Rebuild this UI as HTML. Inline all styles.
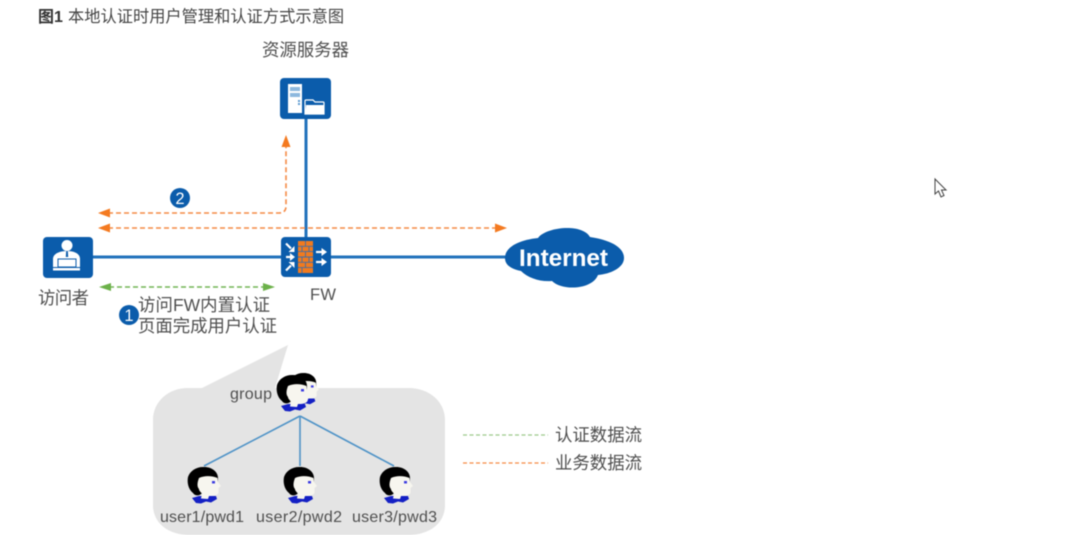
<!DOCTYPE html>
<html><head><meta charset="utf-8"><style>
html,body{margin:0;padding:0;background:#fff;width:1067px;height:535px;overflow:hidden}
svg{display:block;filter:blur(.55px)}
text{font-family:"Liberation Sans","Noto Sans CJK SC",sans-serif;fill:#4f4f4f}
</style></head><body>
<svg width="1067" height="535" viewBox="0 0 1067 535" xmlns="http://www.w3.org/2000/svg">
<defs>
<g id="head">
<path d="M-11 14 L-4 12 L5 12 L13 12 L14 15 L8 18.500 L3 17.500 L-2 19.500 L-7 19Z" fill="#1420c4"/>
<path d="M0 -17C9 -17.500 15 -12 15 -6L15 0L-2 10C-4 12 -8 12 -10 9C-15 5 -16 -2 -15 -7C-13 -13 -7 -17 0 -17Z" fill="#000"/>
<path d="M-4 -6C2 -9 10 -8 14.500 -6L15 -2L18 2L15.500 4L15.500 9C14 12 9 12 6 12L5 15L-2 14.500L-1 10C-2 8 -4 7 -4 5C-6 3 -6 -1 -4 -6Z" fill="#f7f6ef"/>
<rect x="9" y="-3" width="3" height="2.500" fill="#3f3fe0"/>
</g>
</defs>
<rect width="1067" height="535" fill="#fff"/>

<text x="38" y="22" font-size="16" font-weight="bold" style="fill:#333">图1</text>
<text x="68" y="22" font-size="16.200" textLength="276" style="fill:#444">本地认证时用户管理和认证方式示意图</text>
<text x="262" y="56" font-size="17.400" textLength="87">资源服务器</text>

<!-- lines -->
<path d="M306 119V237M93 257H281M331 257H510" stroke="#2272bb" stroke-width="3" fill="none"/>

<!-- server -->
<rect x="280" y="78" width="51" height="41" rx="4" fill="#0b5cab"/>
<rect x="288" y="84" width="14" height="29" fill="#fff"/>
<rect x="290" y="87" width="10" height="4" fill="#8db8de"/>
<rect x="290" y="93" width="10" height="4" fill="#8db8de"/>
<rect x="298" y="100" width="2" height="2" fill="#5c9ad0"/><rect x="298" y="103" width="2" height="2" fill="#5c9ad0"/>
<path d="M305 114V101q0-1 1-1h7l2 2h8q1 0 1 1v11z" fill="#0b5cab" stroke="#fff" stroke-width="1.200"/>
<path d="M305 114l1-9h18v9z" fill="#fff"/>

<!-- visitor -->
<rect x="43" y="237" width="50" height="41" rx="4" fill="#0b5cab"/>
<circle cx="67" cy="245.500" r="5.500" fill="#fff"/>
<path d="M53 267V259C53 254 59 251 67 251C75 251 80 254 80 259V267Z" fill="#fff"/>
<rect x="58" y="259" width="18" height="8" fill="#fff" stroke="#0b5cab" stroke-width="1"/>
<rect x="53" y="268" width="27" height="2.500" fill="#fff"/>
<path d="M66.200 251h1.600l.4 6h-2.400z" fill="#0b5cab"/>

<!-- FW -->
<rect x="281" y="237" width="50" height="40" rx="4" fill="#0b5cab"/>
<rect x="298" y="241" width="15" height="32" fill="#f07a1f"/>
<path d="M298 246.300h15M298 251.600h15M298 257h15M298 262.300h15M298 267.600h15M305.500 241v5.300M302 246.300v5.300M309 246.300v5.300M305.500 251.600v5.400M302 257v5.300M309 257v5.300M305.500 262.300v5.300M302 267.600v5.400" stroke="#3f6ea6" stroke-width=".9" fill="none"/>
<g fill="#fff" stroke="#fff">
<path d="M286 243.500l5 5" stroke-width="2.200"/><path d="M294.500 252v-6l-6 6z" stroke="none"/>
<path d="M286 257h5" stroke-width="2.200"/><path d="M295 257l-5-4v8z" stroke="none"/>
<path d="M286 270.500l5-5" stroke-width="2.200"/><path d="M294.500 262h-6l6 6z" stroke="none"/>
<path d="M316 252h6" stroke-width="2.200"/><path d="M327 252l-5.500-4v8z" stroke="none"/>
<path d="M316 262h6" stroke-width="2.200"/><path d="M327 262l-5.500-4v8z" stroke="none"/>
</g>

<!-- orange flows -->
<g fill="none" stroke="#f58a45" stroke-width="1.600" stroke-dasharray="5 3">
<path d="M108 213H279Q286 213 286 206V146"/>
<path d="M108 228H498"/>
<path d="M463 463H548" stroke-width="1.300" stroke-dasharray="4 2.500"/>
</g>
<path d="M98 213l12-4.500v9zM98 228l12-4.500v9zM507 228l-12-4.500v9zM286 135l-4.500 12h9z" fill="#f47a20"/>

<!-- green flows -->
<path d="M109 287H265" fill="none" stroke="#72b553" stroke-width="1.600" stroke-dasharray="5 3"/>
<path d="M463 435H548" fill="none" stroke="#9cc98a" stroke-width="1.300" stroke-dasharray="4 2.500"/>
<path d="M99 287l12-4v8zM275 287l-12-4v8z" fill="#6cb14a"/>

<!-- badges -->
<circle cx="180" cy="198" r="10" fill="#0b5cab"/>
<text x="180" y="204" font-size="16.500" text-anchor="middle" style="fill:#fff">2</text>
<circle cx="129" cy="315" r="10" fill="#0b5cab"/>
<text x="129" y="321" font-size="16.500" text-anchor="middle" style="fill:#fff">1</text>

<!-- labels -->
<text x="38" y="304" font-size="17.400" textLength="51">访问者</text>
<text x="310" y="300" font-size="16.500" textLength="26">FW</text>
<text x="138" y="311" font-size="17.400" textLength="132">访问FW内置认证</text>
<text x="138" y="332" font-size="17.400" textLength="139">页面完成用户认证</text>

<!-- cloud -->
<path d="M505 258C505 247 519 240 538 238C546 227 582 223 590 237C610 240 624 247 624 258C624 268 610 274 598 275C592 290 562 291 552 281C540 282 528 278 521 271C511 269 505 265 505 258Z" fill="#0b5cab"/>
<text x="519" y="266" font-size="24.300" font-weight="bold" textLength="89" style="fill:#fff">Internet</text>

<!-- bubble -->
<path d="M188 388H202L288 345L275 388H408C430 388 445 402 445 420V505C445 523 430 535 408 535H190C168 535 153 523 153 505V420C153 402 168 388 188 388Z" fill="#e4e4e4"/>
<path d="M300 416L204 466M300 416V466M300 416L394 466" stroke="#4f93c7" stroke-width="1.600" fill="none"/>

<use href="#head" transform="translate(303 388) scale(.88)"/>
<use href="#head" transform="translate(292 392)"/>
<use href="#head" x="203" y="484"/>
<use href="#head" x="299" y="484"/>
<use href="#head" x="395" y="484"/>

<g font-size="16">
<text x="230" y="399" textLength="42">group</text>
<text x="160" y="522" textLength="84">user1/pwd1</text>
<text x="256" y="522" textLength="86">user2/pwd2</text>
<text x="352" y="522" textLength="85">user3/pwd3</text>
</g>

<!-- legend -->
<text x="555" y="441" font-size="17.400" textLength="87">认证数据流</text>
<text x="555" y="469" font-size="17.400" textLength="87">业务数据流</text>

<!-- cursor -->
<path d="M935 179V194L938.500 191L941 197L944 195.500L941.500 190H946Z" fill="#fff" stroke="#444" stroke-width="1"/>
</svg>
</body></html>
